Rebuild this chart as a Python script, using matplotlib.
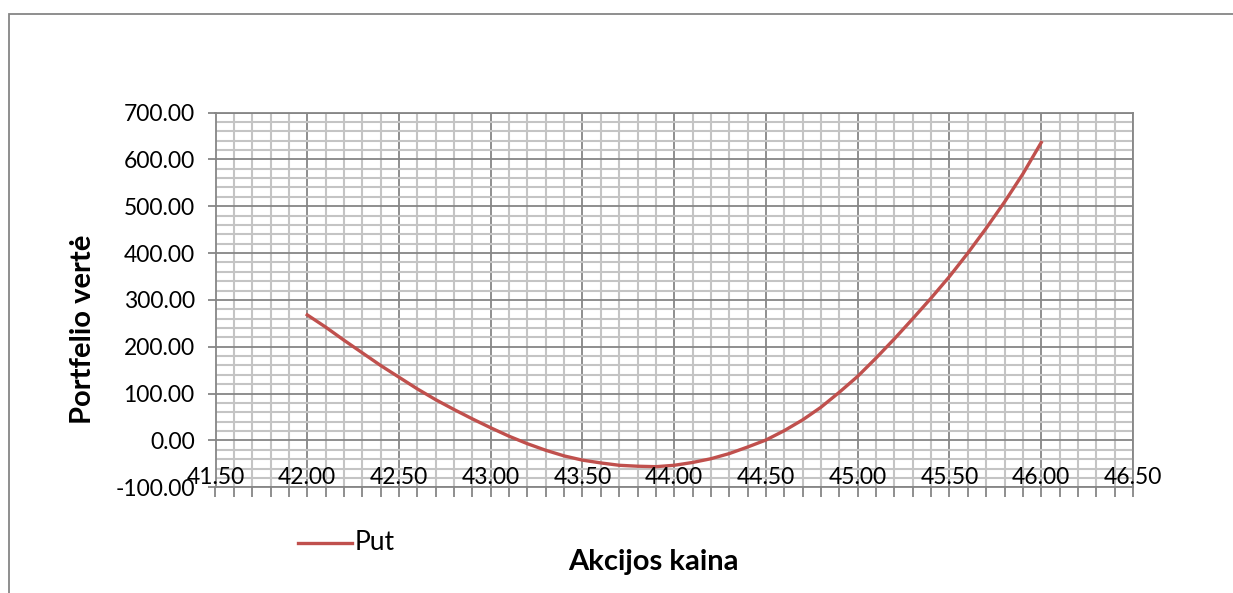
import matplotlib.pyplot as plt
from matplotlib.patches import Rectangle
from matplotlib.ticker import MultipleLocator, FormatStrFormatter

# values (every 0.10 of the share price)
akcijos_kaina = [42.0, 42.1, 42.2, 42.3, 42.4, 42.5, 42.6, 42.7, 42.8, 42.9,
                 43.0, 43.1, 43.2, 43.3, 43.4, 43.5, 43.6, 43.7, 43.8, 43.9,
                 44.0, 44.1, 44.2, 44.3, 44.4, 44.5, 44.6, 44.7, 44.8, 44.9,
                 45.0, 45.1, 45.2, 45.3, 45.4, 45.5, 45.6, 45.7, 45.8, 45.9,
                 46.0]
put_verte = [268, 242, 214, 187, 160, 135, 110, 87, 66, 46,
             27, 9, -7, -21, -33, -42, -48, -53, -55, -56,
             -53, -47, -39, -28, -14, 1, 21, 44, 71, 103,
             137, 176, 217, 260, 304, 350, 400, 453, 509, 569,
             636]
series_name = "Put"
x_title = "Akcijos kaina"
y_title = "Portfelio vertė"

plt.rcParams['font.family'] = ['Lato', 'DejaVu Sans']

fig = plt.figure(figsize=(12.33, 5.93), dpi=100)
W, H = 1233, 593

# outer chart border (runs off the right and bottom of the picture)
fig.patches.append(Rectangle((9 / W, -0.1), 1.2, 1 - 13.5 / H + 0.1,
                             transform=fig.transFigure, fill=False,
                             edgecolor='#868686', linewidth=1.3))

left, right, top, bottom = 215.5, 1133, 112.5, 487.3
ax = fig.add_axes([left / W, 1 - bottom / H, (right - left) / W, (bottom - top) / H])

ax.plot(akcijos_kaina, put_verte, color='#c0504d', linewidth=2.4, label=series_name,
        zorder=3, solid_joinstyle='round')

ax.set_xlim(41.5, 46.5)
ax.set_ylim(-100, 700)
ax.xaxis.set_major_locator(MultipleLocator(0.5))
ax.xaxis.set_minor_locator(MultipleLocator(0.1))
ax.yaxis.set_major_locator(MultipleLocator(100))
ax.yaxis.set_minor_locator(MultipleLocator(20))
ax.yaxis.set_major_formatter(FormatStrFormatter('%.2f'))

ax.grid(which='minor', color='#c4c4c4', linewidth=1.5, zorder=0)
ax.grid(which='major', color='#868686', linewidth=1.3, zorder=1)
ax.set_axisbelow(True)

for s in ax.spines.values():
    s.set_color('#868686')
    s.set_linewidth(1.3)

ax.tick_params(axis='y', which='major', length=6, width=1.3, color='#868686',
               pad=9, labelsize=16.5, labelcolor='black')
ax.tick_params(axis='y', which='minor', length=0)
ax.tick_params(axis='x', which='both', length=7, width=1.3, color='#868686',
               labelbottom=False)

# x tick labels sit inside the plot area, on top of the grid (as in Excel)
for xv in ax.get_xticks():
    if 41.5 - 1e-9 <= xv <= 46.5 + 1e-9:
        ax.text(xv, 0.026, f"{xv:.2f}", transform=ax.get_xaxis_transform(),
                ha='center', va='center', fontsize=16.5, zorder=5, clip_on=False)

fig.text(83 / W, 1 - 329 / H, y_title, rotation=90, ha='center', va='center',
         fontsize=21, fontweight='bold')
fig.text(653 / W, 1 - 562 / H, x_title, ha='center', va='center',
         fontsize=21, fontweight='bold')

# legend drawn by hand at the bottom left
fig.add_artist(plt.Line2D([298 / W, 352 / W], [1 - 543 / H, 1 - 543 / H],
                          transform=fig.transFigure, color='#c0504d', linewidth=2.4))
fig.text(355 / W, 1 - 543 / H, series_name, ha='left', va='center', fontsize=19)

fig.savefig('out.png', dpi=100)
